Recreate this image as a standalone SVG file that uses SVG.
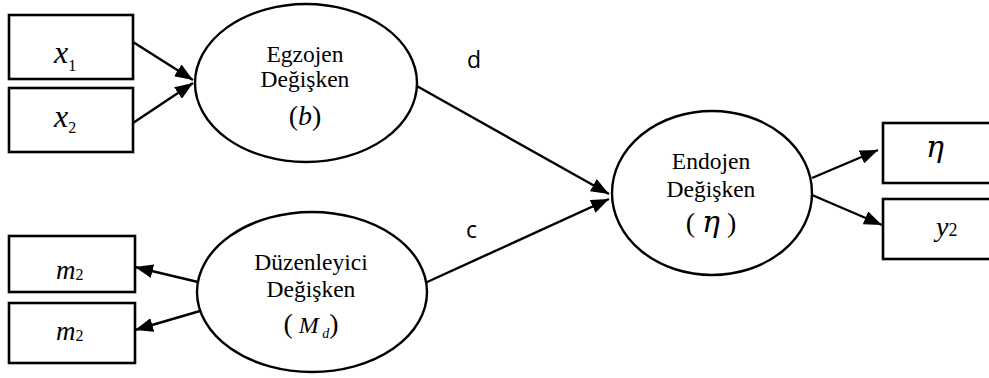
<svg xmlns="http://www.w3.org/2000/svg" width="989" height="378" viewBox="0 0 989 378">
  <defs>
    <marker id="arrow" markerUnits="userSpaceOnUse" markerWidth="18" markerHeight="14" refX="18" refY="7" orient="auto">
      <path d="M0,0 L18,7 L0,14 z" fill="#000"/>
    </marker>
    <style>
      .box { fill: #fff; stroke: #000; stroke-width: 2.6; }
      .oval { fill: #fff; stroke: #000; stroke-width: 2.4; }
      .edge { stroke: #000; stroke-width: 2.4; fill: none; marker-end: url(#arrow); }
      .lbl { font-family: "Liberation Serif", "Times New Roman", serif; font-size: 23.5px; fill: #000; text-anchor: middle; }
      .paren { font-family: "Liberation Serif", "Times New Roman", serif; font-size: 28px; fill: #000; text-anchor: middle; }
      .math { font-family: "Liberation Serif", "Times New Roman", serif; font-style: italic; fill: #000; }
      .greek { font-family: "DejaVu Serif", "Liberation Serif", serif; font-style: italic; fill: #000; }
      .sub { font-family: "Liberation Serif", "Times New Roman", serif; font-style: normal; fill: #000; }
      .coef { font-family: "Open Sans", "Liberation Sans", sans-serif; font-size: 23px; fill: #000; }
    </style>
  </defs>

  <rect width="989" height="378" fill="#fff"/>

  <!-- connectors -->
  <g id="connectors">
    <line class="edge" x1="133" y1="42" x2="193" y2="80"/>
    <line class="edge" x1="133" y1="123" x2="193" y2="83"/>
    <line class="edge" x1="198" y1="282" x2="135" y2="267"/>
    <line class="edge" x1="200" y1="311" x2="135" y2="330"/>
    <line class="edge" x1="415" y1="85" x2="609" y2="194"/>
    <line class="edge" x1="425" y1="283" x2="609" y2="199"/>
    <line class="edge" x1="812" y1="178" x2="878" y2="150"/>
    <line class="edge" x1="812" y1="195" x2="882" y2="225"/>
    <text class="coef" x="467" y="68">d</text>
    <text class="coef" x="466" y="238">c</text>
  </g>

  <!-- indicator boxes, exogenous side -->
  <g id="box-x1">
    <rect class="box" x="9" y="15" width="124" height="64"/>
    <text x="54" y="63" class="math" style="font-size:32px">x<tspan class="sub" style="font-size:16px" dy="8">1</tspan></text>
  </g>
  <g id="box-x2">
    <rect class="box" x="9" y="88" width="124" height="64"/>
    <text x="54" y="127" class="math" style="font-size:32px">x<tspan class="sub" style="font-size:16px" dy="6">2</tspan></text>
  </g>

  <!-- indicator boxes, moderator side -->
  <g id="box-m2-a">
    <rect class="box" x="9" y="236" width="126" height="56"/>
    <text x="56" y="279" class="math" style="font-size:27px">m<tspan class="sub" style="font-size:16px" dy="1">2</tspan></text>
  </g>
  <g id="box-m2-b">
    <rect class="box" x="9" y="303" width="126" height="60"/>
    <text x="56" y="340" class="math" style="font-size:27px">m<tspan class="sub" style="font-size:16px" dy="1">2</tspan></text>
  </g>

  <!-- indicator boxes, endogenous side -->
  <g id="box-eta">
    <rect class="box" x="883" y="123" width="120" height="60"/>
    <text x="926" y="157" class="greek" style="font-size:30px">η</text>
  </g>
  <g id="box-y2">
    <rect class="box" x="883" y="199" width="120" height="60"/>
    <text x="936" y="236" class="math" style="font-size:28px">y<tspan class="sub" style="font-size:18px">2</tspan></text>
  </g>

  <!-- latent variables -->
  <g id="node-egzojen">
    <ellipse class="oval" cx="306" cy="83" rx="111" ry="79"/>
    <text class="lbl" x="305" y="62">Egzojen</text>
    <text class="lbl" x="305" y="87">Değişken</text>
    <text class="paren" x="305" y="125">(<tspan class="math">b</tspan>)</text>
  </g>
  <g id="node-duzenleyici">
    <ellipse class="oval" cx="312" cy="292" rx="115" ry="80"/>
    <text class="lbl" x="311" y="270">Düzenleyici</text>
    <text class="lbl" x="311" y="297">Değişken</text>
    <text class="paren" x="311" y="333">(<tspan class="math" style="font-size:24px"> M</tspan><tspan class="math" style="font-size:14px" dy="5"> d</tspan><tspan dy="-5">)</tspan></text>
  </g>
  <g id="node-endojen">
    <ellipse class="oval" cx="712" cy="193" rx="100" ry="82"/>
    <text class="lbl" x="711" y="169">Endojen</text>
    <text class="lbl" x="711" y="197">Değişken</text>
    <text class="paren" x="711" y="232">( <tspan class="greek" style="font-size:30px">η</tspan> )</text>
  </g>
</svg>
